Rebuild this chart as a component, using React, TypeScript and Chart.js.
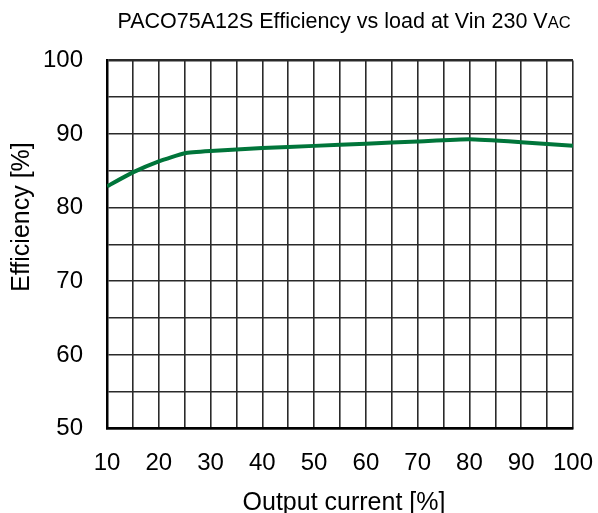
import React, { useEffect, useRef } from "react";
import { Chart, registerables } from "chart.js";

Chart.register(...registerables);

const loadPct = [10, 15, 20, 25, 30, 40, 50, 60, 70, 80, 90, 100];
const efficiency = [82.9, 84.8, 86.3, 87.4, 87.7, 88.1, 88.4, 88.7, 89.0, 89.3, 88.9, 88.4];
const titleMain = "PACO75A12S Efficiency vs load at Vin 230 V";
const titleSub = "AC";
const xTitle = "Output current [%]";
const yTitle = "Efficiency [%]";

const FONT = '"Liberation Sans", Arial, sans-serif';

const textPlugin = {
  id: "customTexts",
  afterDraw(chart: any) {
    const ctx = chart.ctx as CanvasRenderingContext2D;
    const area = chart.chartArea;
    ctx.save();
    ctx.fillStyle = "#000";
    ctx.textBaseline = "alphabetic";
    ctx.textAlign = "left";
    ctx.font = `21.5px ${FONT}`;
    const w1 = ctx.measureText(titleMain).width;
    ctx.font = `16.5px ${FONT}`;
    const w2 = ctx.measureText(titleSub).width;
    const cx = (area.left + area.right) / 2 + 4;
    const x0 = cx - (w1 + w2) / 2;
    ctx.font = `21.5px ${FONT}`;
    ctx.fillText(titleMain, x0, 27.5);
    ctx.font = `16.5px ${FONT}`;
    ctx.fillText(titleSub, x0 + w1, 27.5);
    // x axis title
    ctx.font = `25px ${FONT}`;
    ctx.textAlign = "center";
    ctx.fillText(xTitle, cx, 510);
    // y axis title
    ctx.translate(22, 217);
    ctx.rotate(-Math.PI / 2);
    ctx.textBaseline = "middle";
    ctx.fillText(yTitle, 0, 0);
    ctx.restore();
  },
};

export default function App() {
  const ref = useRef<HTMLCanvasElement | null>(null);
  useEffect(() => {
    if (!ref.current) return;
    const chart = new Chart(ref.current, {
      type: "line",
      data: {
        datasets: [
          {
            data: loadPct.map((x, i) => ({ x, y: efficiency[i] })),
            borderColor: "#00753a",
            borderWidth: 4,
            pointRadius: 0,
            tension: 0.15,
            fill: false,
          },
        ],
      },
      options: {
        animation: false,
        responsive: false,
        devicePixelRatio: 1,
        layout: { padding: { top: 60.5, right: 25, left: 0, bottom: 0 } },
        plugins: {
          legend: { display: false },
          title: { display: false },
          tooltip: { enabled: false },
        },
        scales: {
          x: {
            type: "linear",
            min: 10,
            max: 100,
            afterFit(scale: any) {
              scale.height = 84.5;
              scale.paddingLeft = 0;
              scale.paddingRight = 0;
            },
            border: { display: true, color: "#000", width: 2.5 },
            grid: {
              color: "#2a2a2a",
              lineWidth: 1.6,
              drawTicks: false,
            },
            ticks: {
              stepSize: 5,
              autoSkip: false,
              maxRotation: 0,
              padding: 20,
              color: "#000",
              font: { family: FONT, size: 24 },
              callback: (v: any) => (Number(v) % 10 === 0 ? String(v) : ""),
            },
          },
          y: {
            type: "linear",
            min: 50,
            max: 100,
            afterFit(scale: any) {
              scale.width = 107;
              scale.paddingTop = 0;
              scale.paddingBottom = 0;
            },
            border: { display: true, color: "#000", width: 2.5 },
            grid: {
              color: "#2a2a2a",
              lineWidth: (c: any) => (c.tick && c.tick.value === 100 ? 2.5 : 1.6),
              drawTicks: false,
            },
            ticks: {
              stepSize: 5,
              autoSkip: false,
              padding: 24,
              color: "#000",
              font: { family: FONT, size: 24 },
              callback: (v: any) => (Number(v) % 10 === 0 ? String(v) : ""),
            },
          },
        },
      },
      plugins: [textPlugin],
    });
    return () => chart.destroy();
  }, []);
  return (
    <div style={{ position: "absolute", left: 0, top: 0, width: 598, height: 513, background: "#fff" }}>
      <canvas ref={ref} width={598} height={513} style={{ width: 598, height: 513, display: "block" }} />
    </div>
  );
}
